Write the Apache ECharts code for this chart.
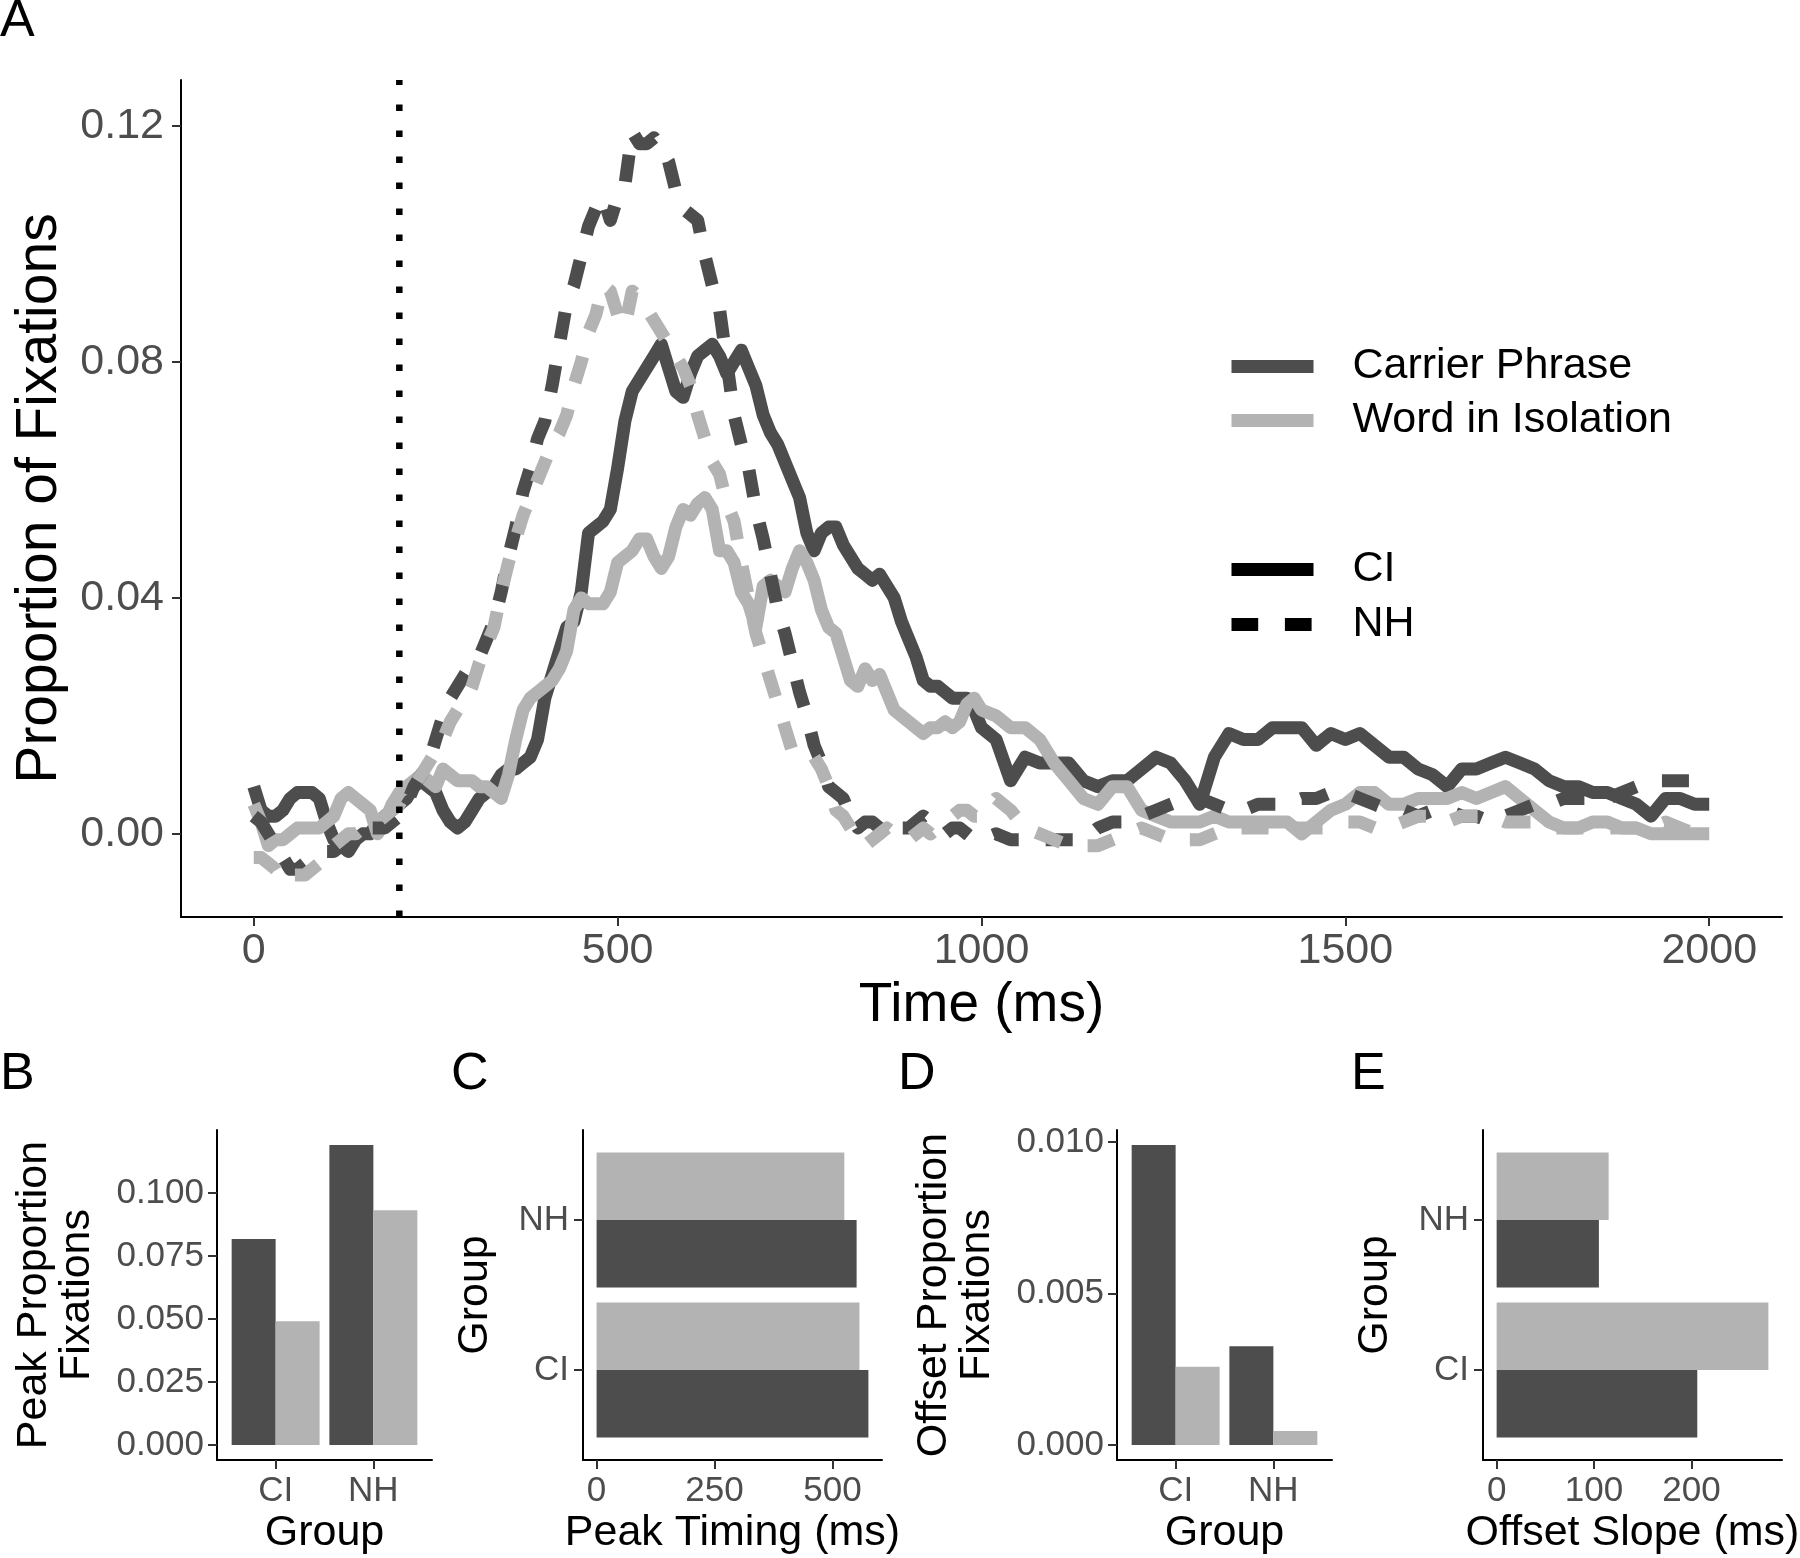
<!DOCTYPE html>
<html><head><meta charset="utf-8">
<script src="https://cdn.jsdelivr.net/npm/echarts@6/dist/echarts.min.js"></script>
<style>html,body{margin:0;padding:0;background:#fff}#c{width:1800px;height:1558px}</style>
</head><body><div id="c"></div>
<script>
// ---------- Panel A data ----------
const timeMs = [0,10,20,30,40,50,60,70,80,90,100,110,120,130,140,150,160,170,180,190,200,210,220,230,240,250,260,270,280,290,300,310,320,330,340,350,360,370,380,390,400,410,420,430,440,450,460,470,480,490,500,510,520,530,540,550,560,570,580,590,600,610,620,630,640,650,660,670,680,690,700,710,720,730,740,750,760,770,780,790,800,810,820,830,840,850,860,870,880,890,900,910,920,930,940,950,960,970,980,990,1000,1020,1040,1060,1080,1100,1120,1140,1160,1180,1200,1220,1240,1260,1280,1300,1320,1340,1360,1380,1400,1420,1440,1460,1480,1500,1520,1540,1560,1580,1600,1620,1640,1660,1680,1700,1720,1740,1760,1780,1800,1820,1840,1860,1880,1900,1920,1940,1960,1980,2000];
const ciCarrier = [0.008,0.004,0.003,0.003,0.004,0.006,0.007,0.007,0.007,0.006,0.002,-0.001,-0.002,-0.003,-0.001,0.000,0.000,0.002,0.003,0.004,0.005,0.006,0.008,0.009,0.008,0.007,0.004,0.002,0.001,0.002,0.004,0.006,0.007,0.008,0.010,0.011,0.011,0.012,0.013,0.016,0.023,0.027,0.031,0.035,0.036,0.041,0.051,0.052,0.053,0.055,0.062,0.070,0.075,0.077,0.079,0.081,0.083,0.079,0.075,0.074,0.078,0.081,0.082,0.083,0.081,0.078,0.080,0.082,0.079,0.076,0.071,0.068,0.066,0.063,0.060,0.057,0.051,0.048,0.051,0.052,0.052,0.049,0.047,0.045,0.044,0.043,0.044,0.042,0.040,0.036,0.033,0.030,0.026,0.025,0.025,0.024,0.023,0.023,0.023,0.021,0.018,0.016,0.009,0.013,0.012,0.012,0.012,0.009,0.008,0.009,0.009,0.011,0.013,0.012,0.009,0.005,0.013,0.017,0.016,0.016,0.018,0.018,0.018,0.015,0.017,0.016,0.017,0.015,0.013,0.013,0.011,0.010,0.008,0.011,0.011,0.012,0.013,0.012,0.011,0.009,0.008,0.008,0.007,0.007,0.006,0.005,0.003,0.006,0.006,0.005,0.005];
const ciWord = [0.005,0.002,-0.002,-0.001,-0.001,0.000,0.001,0.001,0.001,0.001,0.002,0.003,0.006,0.007,0.006,0.005,0.004,0.000,0.002,0.005,0.007,0.008,0.009,0.010,0.009,0.008,0.011,0.010,0.009,0.009,0.009,0.008,0.008,0.007,0.006,0.010,0.016,0.021,0.023,0.024,0.025,0.026,0.028,0.031,0.038,0.040,0.039,0.039,0.039,0.041,0.046,0.047,0.048,0.050,0.050,0.047,0.045,0.047,0.052,0.055,0.054,0.056,0.057,0.055,0.048,0.048,0.046,0.041,0.039,0.035,0.042,0.043,0.042,0.041,0.045,0.048,0.046,0.043,0.038,0.035,0.034,0.030,0.026,0.025,0.028,0.026,0.027,0.024,0.021,0.020,0.019,0.018,0.017,0.018,0.018,0.019,0.018,0.019,0.022,0.023,0.021,0.020,0.018,0.018,0.016,0.012,0.009,0.006,0.005,0.008,0.008,0.004,0.003,0.002,0.002,0.002,0.003,0.002,0.002,0.002,0.002,0.002,0.000,0.002,0.004,0.005,0.007,0.007,0.005,0.005,0.006,0.006,0.006,0.007,0.006,0.007,0.008,0.006,0.004,0.002,0.001,0.001,0.002,0.002,0.001,0.001,0.000,0.000,0.000,0.000,0.000];
const nhCarrier = [0.003,0.002,0.000,-0.002,-0.004,-0.006,-0.006,-0.005,-0.004,-0.004,-0.003,-0.003,-0.002,-0.001,-0.001,0.000,0.001,0.001,0.001,0.002,0.003,0.005,0.008,0.010,0.012,0.016,0.020,0.023,0.025,0.027,0.029,0.030,0.033,0.036,0.041,0.047,0.052,0.058,0.062,0.067,0.070,0.076,0.083,0.090,0.093,0.098,0.103,0.106,0.108,0.104,0.108,0.110,0.119,0.117,0.117,0.118,0.116,0.114,0.109,0.106,0.105,0.104,0.098,0.093,0.089,0.080,0.071,0.066,0.062,0.055,0.050,0.044,0.038,0.034,0.029,0.024,0.020,0.015,0.012,0.008,0.007,0.006,0.003,0.001,0.002,0.002,0.001,0.001,0.002,0.001,0.001,0.002,0.003,0.002,0.001,0.000,0.001,0.001,0.000,-0.001,-0.001,0.000,-0.001,-0.001,-0.001,-0.001,-0.001,-0.001,0.001,0.002,0.002,0.003,0.004,0.005,0.006,0.006,0.005,0.004,0.004,0.005,0.005,0.005,0.006,0.006,0.007,0.007,0.006,0.005,0.004,0.004,0.003,0.004,0.004,0.003,0.003,0.002,0.003,0.004,0.005,0.005,0.006,0.006,0.006,0.006,0.007,0.008,0.009,0.009,0.009,0.009,0.009];
const nhWord = [-0.004,-0.004,-0.005,-0.006,-0.008,-0.007,-0.007,-0.007,-0.006,-0.005,-0.003,-0.002,-0.001,0.000,0.000,0.001,0.001,0.002,0.003,0.004,0.005,0.007,0.008,0.010,0.012,0.014,0.016,0.019,0.021,0.022,0.025,0.029,0.032,0.035,0.041,0.046,0.050,0.054,0.057,0.060,0.063,0.066,0.068,0.071,0.076,0.080,0.085,0.088,0.093,0.092,0.088,0.086,0.092,0.091,0.089,0.087,0.085,0.083,0.081,0.079,0.076,0.071,0.067,0.063,0.061,0.056,0.053,0.046,0.040,0.034,0.030,0.026,0.022,0.018,0.014,0.013,0.013,0.013,0.011,0.008,0.004,0.003,0.001,-0.001,-0.002,-0.001,0.000,0.001,0.000,0.000,-0.001,0.000,0.001,0.000,0.001,0.002,0.003,0.004,0.004,0.003,0.003,0.006,0.004,0.001,0.000,-0.001,-0.002,-0.002,-0.002,-0.001,0.000,0.001,0.000,-0.001,-0.001,-0.001,0.000,0.001,0.001,0.001,0.001,0.001,0.001,0.001,0.001,0.002,0.002,0.001,0.001,0.002,0.003,0.003,0.002,0.003,0.003,0.003,0.002,0.002,0.002,0.001,0.001,0.001,0.001,0.001,0.001,0.001,0.001,0.002,0.001,0.000,0.000];
const onsetMs = 200;
const timeTicks = [0, 500, 1000, 1500, 2000];
const propTicks = [0, 0.04, 0.08, 0.12];

// ---------- Panels B-E data ----------
const groups = ['CI', 'NH'];
const groupPos = [1, 2];
const conditions = ['Carrier Phrase', 'Word in Isolation'];
const peakPropCarrier = [0.0818, 0.1191];
const peakPropWord = [0.0491, 0.0932];
const peakTimingCarrier = [576, 551];
const peakTimingWord = [557, 525];
const offsetPropCarrier = [0.0099, 0.00326];
const offsetPropWord = [0.00258, 0.00046];
const offsetSlopeCarrier = [206, 105];
const offsetSlopeWord = [279, 115];
const peakPropTicks = [0, 0.025, 0.05, 0.075, 0.1];
const peakTimingTicks = [0, 250, 500];
const offsetPropTicks = [0, 0.005, 0.01];
const offsetSlopeTicks = [0, 100, 200];

// ---------- styling ----------
const FF = '"Liberation Sans", Arial, Helvetica, sans-serif';
const DARK = '#4D4D4D', LIGHT = '#B3B3B3';

function valAxis(o) {
  return {
    type: 'value', gridIndex: o.grid, min: o.min, max: o.max, scale: false,
    axisLine: { show: true, onZero: false, lineStyle: { color: '#000', width: 2 } },
    axisTick: { show: true, length: 9, inside: false, lineStyle: { color: '#333', width: 2 }, customValues: o.ticks },
    axisLabel: { show: true, customValues: o.ticks, color: '#4D4D4D', fontFamily: FF, fontSize: o.fs, margin: o.margin, formatter: o.fmt },
    splitLine: { show: false },
    name: o.name, nameLocation: 'middle', nameGap: o.nameGap,
    nameTextStyle: { color: '#000', fontFamily: FF, fontSize: o.nfs, lineHeight: o.nlh || o.nfs }
  };
}

const chart = echarts.init(document.getElementById('c'), null, { renderer: 'canvas', width: 1800, height: 1558 });

const grids = [
  { left: 181, top: 80, width: 1601, height: 837 },
  { left: 217, top: 1130, width: 215, height: 330 },
  { left: 583, top: 1130, width: 299, height: 330 },
  { left: 1117, top: 1130, width: 215, height: 330 },
  { left: 1483, top: 1130, width: 299, height: 330 }
].map(g => Object.assign({ containLabel: false, outerBoundsMode: 'none' }, g));

const groupFmt = v => groups[groupPos.indexOf(Math.round(v))] || '';

const xAxes = [
  valAxis({ grid: 0, min: -100, max: 2100, ticks: timeTicks, fs: 43, margin: 13, fmt: v => String(v), name: 'Time (ms)', nameGap: 60, nfs: 55 }),
  valAxis({ grid: 1, min: 0.4, max: 2.6, ticks: groupPos, fs: 35, margin: 14, fmt: groupFmt, name: 'Group', nameGap: 52, nfs: 43 }),
  valAxis({ grid: 2, min: -28.8, max: 604.8, ticks: peakTimingTicks, fs: 35, margin: 14, fmt: v => String(v), name: 'Peak Timing (ms)', nameGap: 52, nfs: 43 }),
  valAxis({ grid: 3, min: 0.4, max: 2.6, ticks: groupPos, fs: 35, margin: 14, fmt: groupFmt, name: 'Group', nameGap: 52, nfs: 43 }),
  valAxis({ grid: 4, min: -14, max: 293, ticks: offsetSlopeTicks, fs: 35, margin: 14, fmt: v => String(v), name: 'Offset Slope (ms)', nameGap: 52, nfs: 43 })
];
const yAxes = [
  valAxis({ grid: 0, min: -0.0141, max: 0.1278, ticks: propTicks, fs: 43, margin: 17, fmt: v => v.toFixed(2), name: 'Proportion of Fixations', nameGap: 112, nfs: 57 }),
  valAxis({ grid: 1, min: -0.00596, max: 0.12506, ticks: peakPropTicks, fs: 35, margin: 13, fmt: v => v.toFixed(3), name: 'Peak Proportion\nFixations', nameGap: 118, nfs: 43, nlh: 43 }),
  valAxis({ grid: 2, min: 0.4, max: 2.6, ticks: groupPos, fs: 35, margin: 14, fmt: groupFmt, name: 'Group', nameGap: 86, nfs: 43 }),
  valAxis({ grid: 3, min: -0.000495, max: 0.010395, ticks: offsetPropTicks, fs: 35, margin: 13, fmt: v => v.toFixed(3), name: 'Offset Proportion\nFixations', nameGap: 118, nfs: 43, nlh: 43 }),
  valAxis({ grid: 4, min: 0.4, max: 2.6, ticks: groupPos, fs: 35, margin: 14, fmt: groupFmt, name: 'Group', nameGap: 86, nfs: 43 })
];

function lineSeries(name, vals, color, dashed) {
  return {
    type: 'line', name, xAxisIndex: 0, yAxisIndex: 0, silent: true,
    data: timeMs.map((t, i) => [t, vals[i]]),
    symbol: 'none', showSymbol: false, smooth: false,
    itemStyle: { color },
    lineStyle: { color, width: 13, type: dashed ? [27, 27] : 'solid', cap: 'butt', join: 'round' }
  };
}
function legendSeries(name, color, dashed) {
  return {
    type: 'line', name, xAxisIndex: 0, yAxisIndex: 0, data: [], symbol: 'none', showSymbol: false,
    itemStyle: { color },
    lineStyle: { color, width: 13, type: dashed ? [26.7, 26.7] : 'solid', cap: 'butt' }
  };
}
// vertical bars: side -1 = left half of group, +1 = right half
function vBars(name, grid, vals, color, side) {
  return {
    type: 'custom', name, xAxisIndex: grid, yAxisIndex: grid, silent: true,
    data: groupPos.map((g, i) => [g, vals[i]]),
    encode: { x: 0, y: 1 },
    renderItem: (params, api) => {
      const g = api.value(0), v = api.value(1);
      const a = side < 0 ? g - 0.45 : g, b = side < 0 ? g : g + 0.45;
      const p1 = api.coord([a, 0]), p2 = api.coord([b, v]);
      return { type: 'rect', shape: { x: p1[0], y: Math.min(p1[1], p2[1]), width: p2[0] - p1[0], height: Math.abs(p1[1] - p2[1]) }, style: { fill: color } };
    }
  };
}
// horizontal bars: side -1 = lower half of group, +1 = upper half
function hBars(name, grid, vals, color, side) {
  return {
    type: 'custom', name, xAxisIndex: grid, yAxisIndex: grid, silent: true,
    data: groupPos.map((g, i) => [vals[i], g]),
    encode: { x: 0, y: 1 },
    renderItem: (params, api) => {
      const v = api.value(0), g = api.value(1);
      const a = side < 0 ? g - 0.45 : g, b = side < 0 ? g : g + 0.45;
      const p1 = api.coord([0, a]), p2 = api.coord([v, b]);
      return { type: 'rect', shape: { x: p1[0], y: Math.min(p1[1], p2[1]), width: p2[0] - p1[0], height: Math.abs(p1[1] - p2[1]) }, style: { fill: color } };
    }
  };
}

const letterStyle = { fontSize: 52, fontWeight: 'normal', fontFamily: FF, color: '#000' };
const legendText = { fontSize: 43, fontFamily: FF, color: '#000', padding: [0, 0, 0, 34] };
const legendCommon = {
  orient: 'vertical', left: 1225, itemWidth: 82, itemHeight: 13, padding: 0, selectedMode: false,
  textStyle: legendText,
  lineStyle: { width: 13, cap: 'butt' },
  itemStyle: { opacity: 0, borderWidth: 0 }
};

const option = {
  animation: false,
  backgroundColor: '#fff',
  title: [
    { text: 'A', left: 0, top: -4, padding: 0, textStyle: letterStyle },
    { text: 'B', left: 0, top: 1049, padding: 0, textStyle: letterStyle },
    { text: 'C', left: 451, top: 1049, padding: 0, textStyle: letterStyle },
    { text: 'D', left: 898, top: 1049, padding: 0, textStyle: letterStyle },
    { text: 'E', left: 1351, top: 1049, padding: 0, textStyle: letterStyle }
  ],
  legend: [
    Object.assign({ data: conditions, top: 345, itemGap: 11 }, legendCommon),
    Object.assign({ data: groups, top: 548, itemGap: 12 }, legendCommon)
  ],
  grid: grids,
  xAxis: xAxes,
  yAxis: yAxes,
  series: [
    lineSeries('CI – Carrier Phrase', ciCarrier, DARK, false),
    lineSeries('CI – Word in Isolation', ciWord, LIGHT, false),
    lineSeries('NH – Carrier Phrase', nhCarrier, DARK, true),
    lineSeries('NH – Word in Isolation', nhWord, LIGHT, true),
    {
      type: 'line', name: 'Target onset', xAxisIndex: 0, yAxisIndex: 0, silent: true, symbol: 'none',
      data: [[onsetMs, -0.0141], [onsetMs, 0.1278]],
      lineStyle: { color: '#000', width: 6.5, type: [6.5, 19.5], cap: 'butt' }, z: 5
    },
    legendSeries('Carrier Phrase', DARK, false),
    legendSeries('Word in Isolation', LIGHT, false),
    legendSeries('CI', '#000', false),
    legendSeries('NH', '#000', true),
    vBars('Peak prop. – Carrier Phrase', 1, peakPropCarrier, DARK, -1),
    vBars('Peak prop. – Word in Isolation', 1, peakPropWord, LIGHT, 1),
    hBars('Peak timing – Carrier Phrase', 2, peakTimingCarrier, DARK, -1),
    hBars('Peak timing – Word in Isolation', 2, peakTimingWord, LIGHT, 1),
    vBars('Offset prop. – Carrier Phrase', 3, offsetPropCarrier, DARK, -1),
    vBars('Offset prop. – Word in Isolation', 3, offsetPropWord, LIGHT, 1),
    hBars('Offset slope – Carrier Phrase', 4, offsetSlopeCarrier, DARK, -1),
    hBars('Offset slope – Word in Isolation', 4, offsetSlopeWord, LIGHT, 1)
  ]
};
chart.setOption(option);
</script>
</body></html>
